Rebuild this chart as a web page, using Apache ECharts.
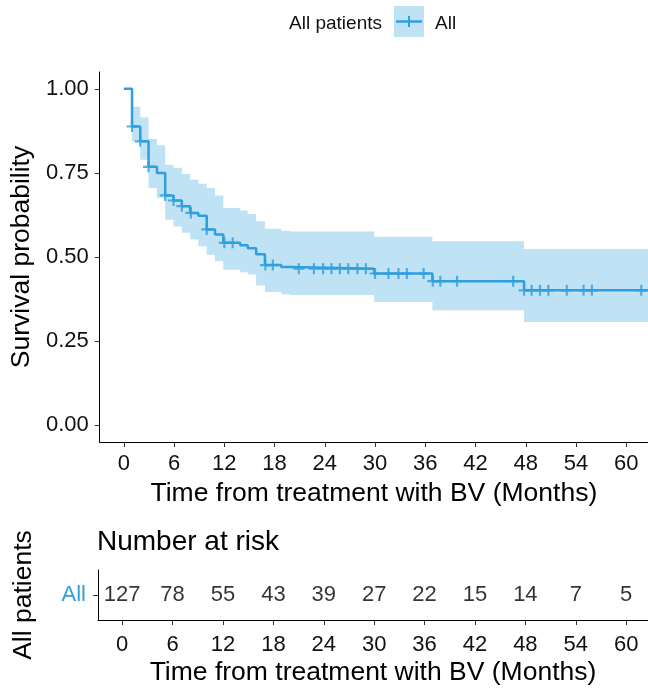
<!DOCTYPE html>
<html>
<head>
<meta charset="utf-8">
<script src="https://cdn.jsdelivr.net/npm/echarts@6/dist/echarts.min.js"></script>
<style>
  html, body { margin: 0; padding: 0; background: #fff; }
  #chart { width: 648px; height: 691px; }
</style>
</head>
<body>
<div id="chart"></div>
<script>
// Kaplan-Meier steps (time in months)
var evT = [0, 0.98, 1.96, 2.95, 3.95, 4.94, 5.93, 6.93, 7.92, 8.9, 9.9, 10.89, 11.88, 13.9, 14.8, 15.8, 16.85, 18.8, 19.9, 29.9, 36.85, 47.8];
var survS = [1.000, 0.888, 0.844, 0.768, 0.750, 0.683, 0.668, 0.651, 0.631, 0.623, 0.582, 0.567, 0.542, 0.535, 0.526, 0.508, 0.476, 0.470, 0.465, 0.451, 0.428, 0.401];
var ciUpper = [1.000, 0.947, 0.915, 0.851, 0.832, 0.774, 0.765, 0.747, 0.730, 0.718, 0.705, 0.683, 0.646, 0.638, 0.628, 0.606, 0.584, 0.578, 0.576, 0.560, 0.547, 0.524];
var ciLower = [1.000, 0.844, 0.789, 0.705, 0.676, 0.611, 0.591, 0.572, 0.552, 0.532, 0.507, 0.488, 0.462, 0.455, 0.448, 0.415, 0.396, 0.389, 0.387, 0.366, 0.342, 0.307];
var endT = 62.6;

// censoring times
var censT = [0.98, 1.96, 2.95, 4.94, 5.93, 6.93, 8.0, 9.9, 12.0, 13.0, 16.9, 17.8, 20.9, 22.7, 23.8, 24.8, 25.8, 26.8, 27.9, 28.9, 30.0, 31.6, 32.8, 33.8, 35.8, 36.9, 37.8, 39.8, 46.5, 47.8, 48.7, 49.7, 50.7, 52.9, 54.9, 55.9, 61.8];

// number at risk
var riskT = [0, 6, 12, 18, 24, 30, 36, 42, 48, 54, 60];
var riskN = [127, 78, 55, 43, 39, 27, 22, 15, 14, 7, 5];

var xTicks = [0, 6, 12, 18, 24, 30, 36, 42, 48, 54, 60];
var yTicks = [0, 0.25, 0.5, 0.75, 1];

var blue = '#2E9FDF';
var band = '#C0E2F5';
var ink = '#111';
var font = 'Liberation Sans, Arial, sans-serif';

function survAt(t) {
	var s = survS[0];
	for (var i = 0; i < evT.length; i++) {
		if (t >= evT[i]) s = survS[i];
	}
	return s;
}

var lineData = evT.map(function(t, i) { return [t, survS[i]]; });
lineData.push([endT, survS[survS.length - 1]]);

var censData = censT.map(function(t) { return [t, survAt(t)]; });

var riskData = riskT.map(function(t, i) { return [t, 'All', riskN[i]]; });

var plus = 'path://M4,0h2v4h4v2h-4v4h-2v-4h-4v-2h4z';

var myChart = echarts.init(document.getElementById('chart'));

var xAxisBase = {
	type: 'value',
	min: -2.88,
	max: endT,
	axisLine: { show: true, onZero: false, lineStyle: { color: '#000', width: 1 } },
	axisTick: { show: true, length: 5, lineStyle: { color: '#333' }, customValues: xTicks },
	axisLabel: { color: ink, fontSize: 22, fontFamily: font, margin: 11, customValues: xTicks },
	splitLine: { show: false },
	name: 'Time from treatment with BV (Months)',
	nameLocation: 'middle',
	nameTextStyle: { color: '#000', fontSize: 26.5, fontFamily: font }
};

var option = {
	animation: false,
	grid: [
		{ left: 98, top: 72, width: 550, height: 370 },
		{ left: 98, top: 570, width: 550, height: 50 }
	],
	xAxis: [
		Object.assign({}, xAxisBase, { gridIndex: 0, nameGap: 38 }),
		Object.assign({}, xAxisBase, { gridIndex: 1, nameGap: 39, axisLabel: Object.assign({}, xAxisBase.axisLabel, { margin: 14 }) })
	],
	yAxis: [{
		gridIndex: 0,
		type: 'value',
		min: -0.05,
		max: 1.05,
		axisLine: { show: true, onZero: false, lineStyle: { color: '#000', width: 1 } },
		axisTick: { show: true, length: 5, lineStyle: { color: '#333' }, customValues: yTicks },
		axisLabel: {
			color: ink, fontSize: 22, fontFamily: font, margin: 11, customValues: yTicks,
			formatter: function(v) { return v.toFixed(2); }
		},
		splitLine: { show: false },
		name: 'Survival probability',
		nameLocation: 'middle',
		nameRotate: 90,
		nameGap: 57,
		nameTextStyle: { color: '#000', fontSize: 26.5, fontFamily: font }
	}, {
		gridIndex: 1,
		type: 'category',
		data: ['All'],
		axisLine: { show: true, onZero: false, lineStyle: { color: '#000', width: 1 } },
		axisTick: { show: true, length: 5, alignWithLabel: true, lineStyle: { color: '#333' } },
		axisLabel: { color: blue, fontSize: 22, fontFamily: font, margin: 12 },
		name: 'All patients',
		nameLocation: 'middle',
		nameRotate: 90,
		nameGap: 61,
		nameTextStyle: { color: '#000', fontSize: 26.5, fontFamily: font }
	}],
	graphic: [{
		type: 'text', left: 97, top: 528,
		style: { text: 'Number at risk', fill: '#000', font: '28px ' + font }
	}, {
		type: 'group',
		children: [{
			type: 'text', x: 382, y: 24,
			style: { text: 'All patients', fill: ink, font: '19px ' + font, align: 'right', verticalAlign: 'middle' }
		}, {
			type: 'rect', shape: { x: 394, y: 6, width: 30, height: 31 }, style: { fill: band }
		}, {
			type: 'line', shape: { x1: 396, y1: 21.5, x2: 422, y2: 21.5 }, style: { stroke: blue, lineWidth: 2.5 }
		}, {
			type: 'line', shape: { x1: 409, y1: 16, x2: 409, y2: 27 }, style: { stroke: blue, lineWidth: 2 }
		}, {
			type: 'text', x: 435, y: 24,
			style: { text: 'All', fill: ink, font: '19px ' + font, align: 'left', verticalAlign: 'middle' }
		}]
	}],
	series: [{
		name: 'band',
		type: 'custom',
		xAxisIndex: 0,
		yAxisIndex: 0,
		silent: true,
		z: 1,
		data: [[0, 0]],
		renderItem: function(params, api) {
			var pts = [];
			var n = evT.length;
			for (var i = 1; i < n; i++) {
				var next = i + 1 < n ? evT[i + 1] : endT;
				pts.push(api.coord([evT[i], ciUpper[i]]));
				pts.push(api.coord([next, ciUpper[i]]));
			}
			for (var j = n - 1; j >= 1; j--) {
				var nx = j + 1 < n ? evT[j + 1] : endT;
				pts.push(api.coord([nx, ciLower[j]]));
				pts.push(api.coord([evT[j], ciLower[j]]));
			}
			return { type: 'polygon', shape: { points: pts }, style: { fill: band } };
		}
	}, {
		name: 'All',
		type: 'line',
		xAxisIndex: 0,
		yAxisIndex: 0,
		step: 'end',
		showSymbol: false,
		z: 3,
		lineStyle: { color: blue, width: 2.5 },
		data: lineData
	}, {
		name: 'censor',
		type: 'scatter',
		xAxisIndex: 0,
		yAxisIndex: 0,
		symbol: plus,
		symbolSize: 11,
		z: 4,
		itemStyle: { color: blue },
		data: censData
	}, {
		name: 'risk',
		type: 'scatter',
		xAxisIndex: 1,
		yAxisIndex: 1,
		symbolSize: 0,
		label: {
			show: true,
			position: 'inside',
			color: '#000',
			fontSize: 22,
			fontFamily: font,
			formatter: function(p) { return p.value[2]; }
		},
		data: riskData
	}]
};
myChart.setOption(option);
</script>
</body>
</html>
